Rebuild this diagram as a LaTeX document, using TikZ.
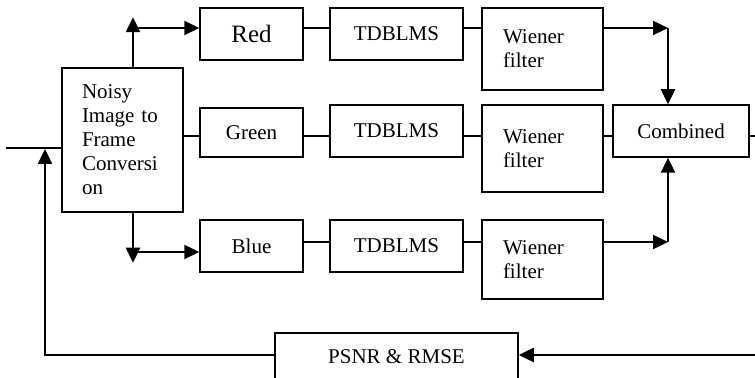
\documentclass[tikz,border=0pt]{standalone}
\usepackage{fontspec}
\setmainfont{Liberation Serif}
\usetikzlibrary{arrows.meta}
\tikzset{
  blk/.style={rectangle,draw,line width=0.75pt,inner sep=2pt},
  wire/.style={line width=0.65pt},
  flow/.style={line width=1.2pt,-{Triangle[length=7.5pt,width=7pt]}},
}

\begin{document}
\begin{tikzpicture}[x=0.5pt,y=-0.5pt,font=\fontsize{10.5}{12}\selectfont]
\useasboundingbox (0,0) rectangle (755,378);
% row levels and turning points
\coordinate (rowA) at (0,28);\coordinate (rowB) at (0,136);\coordinate (rowC) at (0,242);\coordinate (rowD) at (0,252);
\coordinate (sp) at (133,0);\coordinate (mg) at (668,0);
\coordinate (in) at (6,148);\coordinate (out) at (755,136);
\coordinate (fb) at (755,355);\coordinate (fl) at (45,149);
% blocks
\node[blk,minimum width=60.5pt,minimum height=72pt,text width=40.5pt,align=left] (noisy) at (122.5,140) {Noisy\\Image to\\Frame\\Conversi\\on};
\node[blk,minimum width=51.5pt,minimum height=26pt,font=\fontsize{12.5}{15}\selectfont] (red) at (251.5,34) {Red};
\node[blk,minimum width=51.5pt,minimum height=24.5pt] (green) at (251.5,132.5) {Green};
\node[blk,minimum width=51.5pt,minimum height=26pt] (blue) at (251.5,246) {Blue};
\node[blk,minimum width=66.5pt,minimum height=26pt] (tdr) at (396.5,34) {TDBLMS};
\node[blk,minimum width=66.5pt,minimum height=26pt] (tdg) at (396.5,131) {TDBLMS};
\node[blk,minimum width=66.5pt,minimum height=26pt] (tdb) at (396.5,246) {TDBLMS};
\node[blk,minimum width=60.5pt,minimum height=41pt,text width=39.5pt,align=left] (wr) at (542.5,49) {Wiener\\filter};
\node[blk,minimum width=60.5pt,minimum height=43.5pt,text width=39.5pt,align=left] (wg) at (542.5,148.5) {Wiener\\filter};
\node[blk,minimum width=60.5pt,minimum height=39.5pt,text width=39.5pt,align=left] (wb) at (542.5,259.5) {Wiener\\filter};
\node[blk,minimum width=68pt,minimum height=26pt] (comb) at (681,131) {Combined};
\node[blk,minimum width=121.5pt,minimum height=24pt] (psnr) at (396.5,357) {PSNR \& RMSE};
% plain links
\draw[wire] (in) -- (noisy.west |- in);
\draw[wire] (noisy.east |- rowB) -- (green.west |- rowB);
\draw[wire] (red.east |- rowA) -- (tdr.west |- rowA);
\draw[wire] (tdr.east |- rowA) -- (wr.west |- rowA);
\draw[wire] (green.east |- rowB) -- (tdg.west |- rowB);
\draw[wire] (tdg.east |- rowB) -- (wg.west |- rowB);
\draw[wire] (wg.east |- rowB) -- (comb.west |- rowB);
\draw[wire] (blue.east |- rowC) -- (tdb.west |- rowC);
\draw[wire] (tdb.east |- rowC) -- (wb.west |- rowC);
\draw[wire] (comb.east |- out) -- (out);
% arrows
\draw[flow] (sp |- noisy.north) -- ++(0,-50);
\draw[flow] (sp |- rowA) -- (red.west |- rowA);
\draw[flow] (sp |- noisy.south) -- ++(0,50);
\draw[flow] (sp |- rowD) -- (blue.west |- rowD);
\draw[flow] (wr.east |- rowA) -- (mg |- rowA);
\draw[flow] (mg |- rowA) -- (comb.north -| mg);
\draw[flow] (wb.east |- rowC) -- (mg |- rowC);
\draw[flow] (mg |- rowC) -- (comb.south -| mg);
\draw[flow] (fb) -- (psnr.east |- fb);
\draw[flow] (psnr.west |- fb) -| (fl);
\end{tikzpicture}
\end{document}
